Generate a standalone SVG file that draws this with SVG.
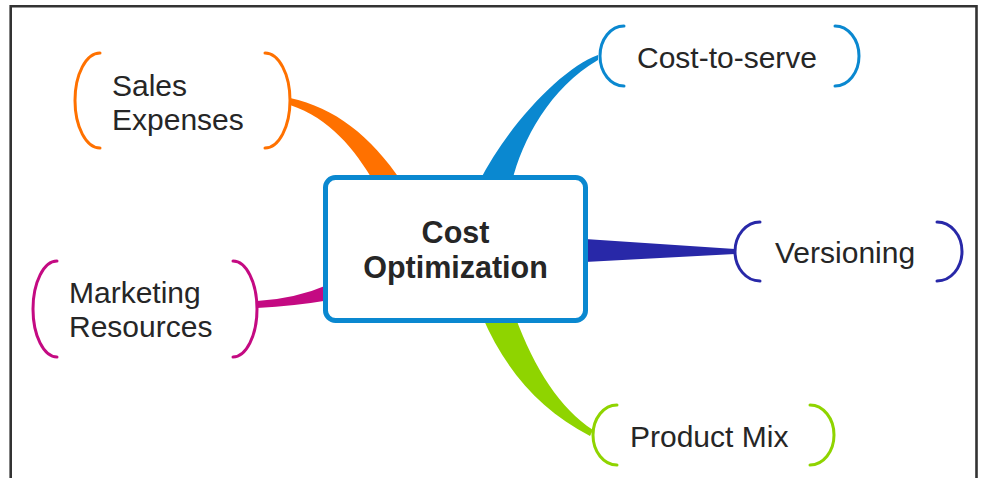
<svg xmlns="http://www.w3.org/2000/svg" width="982" height="478" viewBox="0 0 982 478">
  <style>
    .frame { fill: none; stroke: #333333; stroke-width: 2.6; }
    .bracket { fill: none; stroke-width: 3; stroke-linecap: round; }
    .leaf { font-family: "Liberation Sans", Arial, sans-serif; font-size: 30px; fill: #262626; }
    .root { font-family: "Liberation Sans", Arial, sans-serif; font-size: 30.5px; font-weight: bold; fill: #262626; text-anchor: middle; }
    .orange { stroke: #ff7100; }
    .blue { stroke: #0a88d0; }
    .navy { stroke: #2828a8; }
    .magenta { stroke: #c40a82; }
    .green { stroke: #8fd400; }
  </style>
  <rect x="0" y="0" width="982" height="478" fill="#ffffff"/>
  <path class="frame" d="M10.7,478 V6.2 H976.5 V478"/>

  <!-- tapered branches, drawn under the central box -->
  <g id="connectors">
    <path d="M290,98 C335,108 370,135 402,182 L374,182 C355,150 330,118 290,105 Z" fill="#ff7100"/>
    <path d="M598,55 C562,68 508,125 479,182 L512,182 C522,140 550,88 598,60 Z" fill="#0a88d0"/>
    <path d="M585,239 L735,249 L735,254 L585,262 Z" fill="#2828a8"/>
    <path d="M482,316 C505,370 540,410 590,436 L593,430 C560,408 535,370 515,316 Z" fill="#8fd400"/>
    <path d="M257,301 Q295,299 330,284 L330,300 Q295,306 257,308 Z" fill="#c40a82"/>
  </g>

  <g id="cost-optimization">
    <rect x="325.5" y="177.5" width="260" height="143" rx="10" ry="10" fill="#ffffff" stroke="#0a88d0" stroke-width="5"/>
    <text class="root" x="455.5" y="243">Cost</text>
    <text class="root" x="455.5" y="278">Optimization</text>
  </g>

  <g id="sales-expenses">
    <path class="bracket orange" d="M100,53 A25,47.5 0 0 0 100,148"/>
    <path class="bracket orange" d="M265,53 A25,47.5 0 0 1 265,148"/>
    <text class="leaf" x="112" y="96">Sales</text>
    <text class="leaf" x="112" y="130">Expenses</text>
  </g>

  <g id="cost-to-serve">
    <path class="bracket blue" d="M624,26 A24,30 0 0 0 624,86"/>
    <path class="bracket blue" d="M835,26 A24,30 0 0 1 835,86"/>
    <text class="leaf" x="637" y="68">Cost-to-serve</text>
  </g>

  <g id="versioning">
    <path class="bracket navy" d="M760,222 A25,29.5 0 0 0 760,281"/>
    <path class="bracket navy" d="M937,222 A25,29.5 0 0 1 937,281"/>
    <text class="leaf" x="775" y="263">Versioning</text>
  </g>

  <g id="product-mix">
    <path class="bracket green" d="M617,405 A24,30 0 0 0 617,465"/>
    <path class="bracket green" d="M810,405 A24,30 0 0 1 810,465"/>
    <text class="leaf" x="630" y="447">Product Mix</text>
  </g>

  <g id="marketing-resources">
    <path class="bracket magenta" d="M57,261 A24,48 0 0 0 57,357"/>
    <path class="bracket magenta" d="M233,261 A24,48 0 0 1 233,357"/>
    <text class="leaf" x="69" y="303">Marketing</text>
    <text class="leaf" x="69" y="337">Resources</text>
  </g>
</svg>
